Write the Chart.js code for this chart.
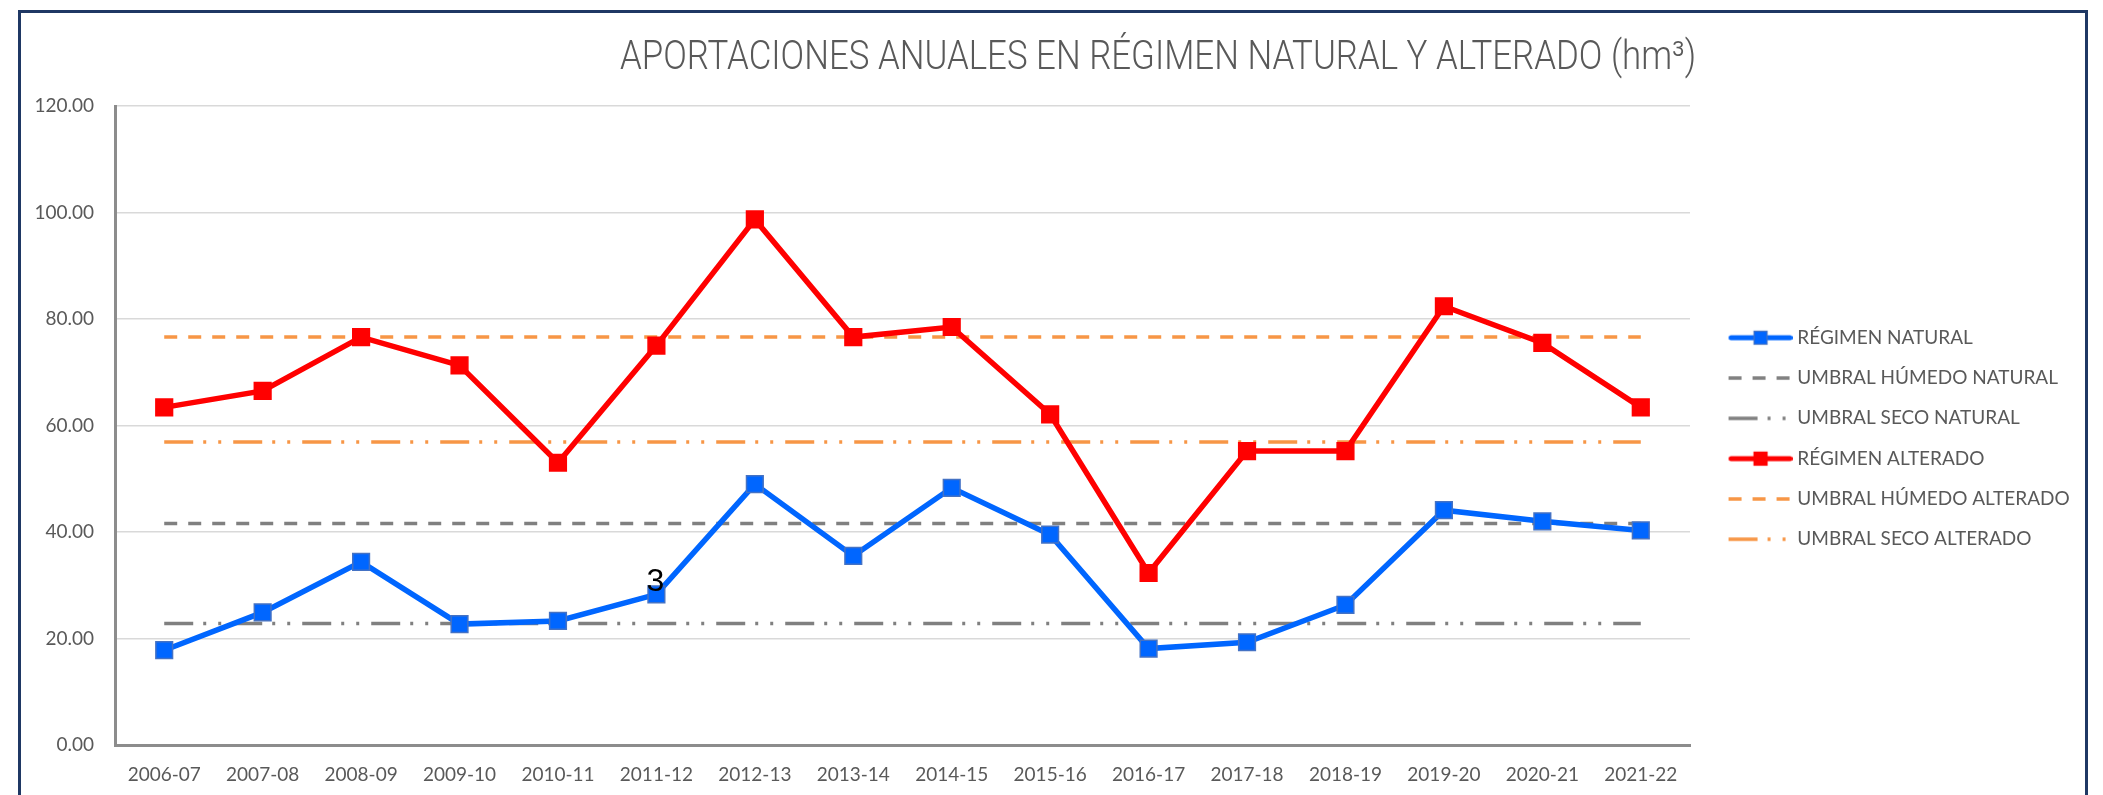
<!DOCTYPE html>
<html>
<head>
<meta charset="utf-8">
<script src="https://cdn.jsdelivr.net/npm/chart.js@4.4.1/dist/chart.umd.min.js"></script>
<style>
html,body{margin:0;padding:0;background:#ffffff;width:2103px;height:795px;overflow:hidden;}
#frame{position:absolute;left:18px;top:10px;width:2064px;height:830px;border:3px solid #1F3864;}
#wrap{position:absolute;left:0;top:0;width:2103px;height:795px;}
</style>
</head>
<body>
<div id="frame"></div>
<div id="wrap"><canvas id="c"></canvas></div>
<script>
// ---- DATA ----
const categories = ['2006-07','2007-08','2008-09','2009-10','2010-11','2011-12','2012-13','2013-14','2014-15','2015-16','2016-17','2017-18','2018-19','2019-20','2020-21','2021-22'];
const regimenNatural = [17.8, 24.9, 34.4, 22.7, 23.3, 28.3, 49.0, 35.5, 48.3, 39.5, 18.1, 19.3, 26.3, 44.1, 42.0, 40.3];
const umbralHumedoNatural = [41.6, 41.6, 41.6, 41.6, 41.6, 41.6, 41.6, 41.6, 41.6, 41.6, 41.6, 41.6, 41.6, 41.6, 41.6, 41.6];
const umbralSecoNatural = [22.8, 22.8, 22.8, 22.8, 22.8, 22.8, 22.8, 22.8, 22.8, 22.8, 22.8, 22.8, 22.8, 22.8, 22.8, 22.8];
const regimenAlterado = [63.4, 66.5, 76.6, 71.3, 53.0, 75.0, 98.7, 76.6, 78.5, 62.1, 32.3, 55.2, 55.2, 82.4, 75.5, 63.4];
const umbralHumedoAlterado = [76.6, 76.6, 76.6, 76.6, 76.6, 76.6, 76.6, 76.6, 76.6, 76.6, 76.6, 76.6, 76.6, 76.6, 76.6, 76.6];
const umbralSecoAlterado = [56.9, 56.9, 56.9, 56.9, 56.9, 56.9, 56.9, 56.9, 56.9, 56.9, 56.9, 56.9, 56.9, 56.9, 56.9, 56.9];
const seriesNames = ['RÉGIMEN NATURAL','UMBRAL HÚMEDO NATURAL','UMBRAL SECO NATURAL','RÉGIMEN ALTERADO','UMBRAL HÚMEDO ALTERADO','UMBRAL SECO ALTERADO'];
const yTickMin = 0, yTickMax = 120, yTickStep = 20;
const chartTitle = 'APORTACIONES ANUALES EN RÉGIMEN NATURAL Y ALTERADO (hm³)';
const strayLabel = {text: '3', datasetIndex: 0, index: 5};

// ---- STYLES ----
const GRAY = '#808080', ORANGE = '#F79646', BLUE = '#0066FF', RED = '#FF0000';
const TEXT = '#595959';
const FONT = 'Lato, "Open Sans", sans-serif';
const DASH = [13, 11];
const DASHDOT = [29, 10, 3, 12, 3, 12];

function mainSeries(label, data, color, border) {
  return {label, data, borderColor: color, backgroundColor: color, borderWidth: 5.5,
    pointStyle: 'rect', pointRadius: 11.8, pointHoverRadius: 11.8,
    pointBackgroundColor: color, pointBorderColor: border, pointBorderWidth: 1.5,
    tension: 0, order: 0, _marker: true};
}
function thresholdSeries(label, data, color, dash) {
  return {label, data, borderColor: color, backgroundColor: color, borderWidth: 3.5,
    borderDash: dash, borderCapStyle: 'butt', pointRadius: 0, pointHoverRadius: 0,
    tension: 0, order: 1, _marker: false};
}

const iconCache = {};
function legendIcon(ds, i) {
  if (iconCache[i]) return iconCache[i];
  const W = 86, H = 22, L = 64;
  const c = document.createElement('canvas');
  c.width = W; c.height = H;
  const g = c.getContext('2d');
  const x0 = W - L, cy = H / 2;
  g.strokeStyle = ds.borderColor;
  if (ds._marker) {
    g.lineWidth = 5;
    g.lineCap = 'round';
    g.beginPath(); g.moveTo(x0 + 2.5, cy); g.lineTo(W - 2.5, cy); g.stroke();
    const s = 13, cx = x0 + L / 2;
    g.fillStyle = ds.pointBackgroundColor;
    g.fillRect(cx - s / 2, cy - s / 2, s, s);
    g.lineWidth = 1.2; g.strokeStyle = ds.pointBorderColor;
    g.strokeRect(cx - s / 2, cy - s / 2, s, s);
  } else {
    g.lineWidth = 3.5;
    g.setLineDash(ds.borderDash);
    g.beginPath(); g.moveTo(x0, cy); g.lineTo(W, cy); g.stroke();
  }
  iconCache[i] = c;
  return c;
}

const titlePlugin = {
  id: 'customTitle',
  afterDraw(chart) {
    const ctx = chart.ctx;
    ctx.save();
    ctx.font = '300 40px Roboto, sans-serif';
    ctx.fillStyle = TEXT;
    ctx.textAlign = 'center';
    ctx.textBaseline = 'middle';
    const w = ctx.measureText(chartTitle).width;
    const sx = Math.min(1, 1076 / w);
    ctx.translate(1158, 59);
    ctx.scale(sx, 1);
    ctx.fillText(chartTitle, 0, 0);
    ctx.restore();
  }
};

const strayLabelPlugin = {
  id: 'strayLabel',
  afterDatasetsDraw(chart) {
    const meta = chart.getDatasetMeta(strayLabel.datasetIndex);
    const pt = meta.data[strayLabel.index];
    if (!pt) return;
    const ctx = chart.ctx;
    ctx.save();
    ctx.font = '32px "Liberation Sans", Arial, sans-serif';
    ctx.fillStyle = '#000000';
    ctx.textAlign = 'center';
    ctx.textBaseline = 'middle';
    ctx.fillText(strayLabel.text, pt.x - 1, pt.y - 12);
    ctx.restore();
  }
};

const datasets = [
  mainSeries(seriesNames[0], regimenNatural, BLUE, '#4472C4'),
  thresholdSeries(seriesNames[1], umbralHumedoNatural, GRAY, DASH),
  thresholdSeries(seriesNames[2], umbralSecoNatural, GRAY, DASHDOT),
  mainSeries(seriesNames[3], regimenAlterado, RED, RED),
  thresholdSeries(seriesNames[4], umbralHumedoAlterado, ORANGE, DASH),
  thresholdSeries(seriesNames[5], umbralSecoAlterado, ORANGE, DASHDOT)
];

new Chart(document.getElementById('c'), {
  type: 'line',
  data: {labels: categories, datasets},
  plugins: [titlePlugin, strayLabelPlugin],
  options: {
    responsive: true,
    maintainAspectRatio: false,
    animation: false,
    events: [],
    layout: {padding: {left: 34, right: 33, top: 106, bottom: 10}},
    plugins: {
      title: {display: false},
      tooltip: {enabled: false},
      legend: {
        display: true,
        position: 'right',
        align: 'center',
        fullSize: false,
        maxWidth: 380,
        title: {display: true, text: ' ', font: {size: 10}, padding: 7},
        labels: {
          usePointStyle: true,
          pointStyleWidth: 76.5,
          padding: 21.3,
          color: TEXT,
          font: {family: FONT, size: 19},
          sort: (a, b) => a.datasetIndex - b.datasetIndex,
          generateLabels(chart) {
            const items = Chart.defaults.plugins.legend.labels.generateLabels(chart);
            items.forEach(it => {
              it.pointStyle = legendIcon(chart.data.datasets[it.datasetIndex], it.datasetIndex);
              it.fontColor = TEXT;
              it.lineWidth = 0;
            });
            return items;
          }
        }
      }
    },
    scales: {
      x: {
        type: 'category',
        offset: true,
        grid: {display: true, drawOnChartArea: false, drawTicks: false},
        border: {display: true, color: '#8C8C8C', width: 3},
        ticks: {color: TEXT, font: {family: FONT, size: 19}, padding: 18, maxRotation: 0, autoSkip: false},
        afterFit(scale) { scale.height = 40; }
      },
      y: {
        min: yTickMin, max: yTickMax,
        grid: {color: '#D9D9D9', lineWidth: 1.5, drawTicks: false},
        border: {display: true, color: '#8C8C8C', width: 3},
        ticks: {stepSize: yTickStep, color: TEXT, font: {family: FONT, size: 19}, padding: 21,
          callback: v => Number(v).toFixed(2)},
        afterFit(scale) { scale.width = 81; }
      }
    }
  }
});
</script>
</body>
</html>
